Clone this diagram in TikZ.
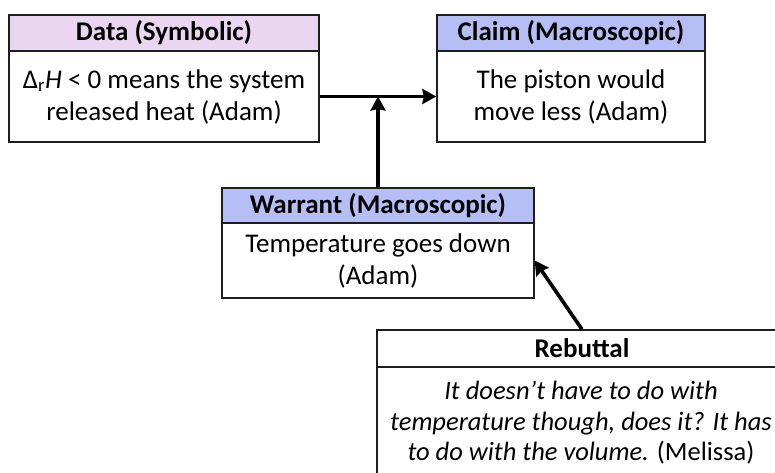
\documentclass[tikz,border=0pt]{standalone}
\usepackage{fontspec}
\setmainfont{Carlito}
\usetikzlibrary{arrows.meta}
\definecolor{datahead}{RGB}{234,214,240}
\definecolor{macrohead}{RGB}{182,190,246}
\definecolor{edge}{RGB}{30,30,30}
\begin{document}
\begin{tikzpicture}[x=1pt,y=-1pt,
  boxline/.style={draw=edge, line width=1.3pt},
  head/.style={boxline, inner sep=0pt, anchor=center,
    font=\bfseries\fontsize{27}{30}\selectfont},
  body/.style={boxline, fill=white, inner sep=0pt, align=center, anchor=center,
    font=\fontsize{27}{32}\selectfont},
  link/.style={line width=3.6pt, draw=black, -{Stealth[length=14pt,width=15pt,inset=1.5pt]}}
]
\clip (0,0) rectangle (775,472);
\fill[white] (0,0) rectangle (775,472);

% Data
\node[head, fill=datahead, minimum width=310pt, minimum height=36pt] (datah) at (164,33) {Data (Symbolic)};
\node[body, minimum width=310pt, minimum height=91pt] (data) at (164,96.5)
  {Δ\textsubscript{r}\textit{H} < 0 means the system\\released heat (Adam)};

% Claim
\node[head, fill=macrohead, minimum width=268pt, minimum height=36pt] (claimh) at (571,33) {Claim (Macroscopic)};
\node[body, minimum width=268pt, minimum height=91pt] (claim) at (571,96.5)
  {The piston would\\move less (Adam)};

% Warrant
\node[head, fill=macrohead, minimum width=312pt, minimum height=35pt] (warranth) at (378,205.5) {Warrant (Macroscopic)};
\node[body, minimum width=312pt, minimum height=75pt] (warrant) at (378,260.5)
  {Temperature goes down\\(Adam)};

% Rebuttal (runs past the lower and right edges)
\node[head, fill=white, minimum width=410pt, minimum height=37pt] (rebuth) at (582,348.5) {Rebuttal};
\node[body, minimum width=410pt, minimum height=126pt] (rebut) at (582,430)
  {};
\node[font=\fontsize{26.5}{30.5}\selectfont, align=center, inner sep=0pt] (rebuttext) at (581,423)
  {\textit{It doesn’t have to do with}\\\textit{temperature though, does it? It has}\\\textit{to do with the volume.} (Melissa)};

% Connectors
\draw[link] (data.east) -- (claim.west);
\coordinate (join) at (warranth.north |- data.east);
\draw[link] (warranth.north) -- (join);
\draw[link] (rebuth.north) -- (warrant.east);
\end{tikzpicture}
\end{document}
